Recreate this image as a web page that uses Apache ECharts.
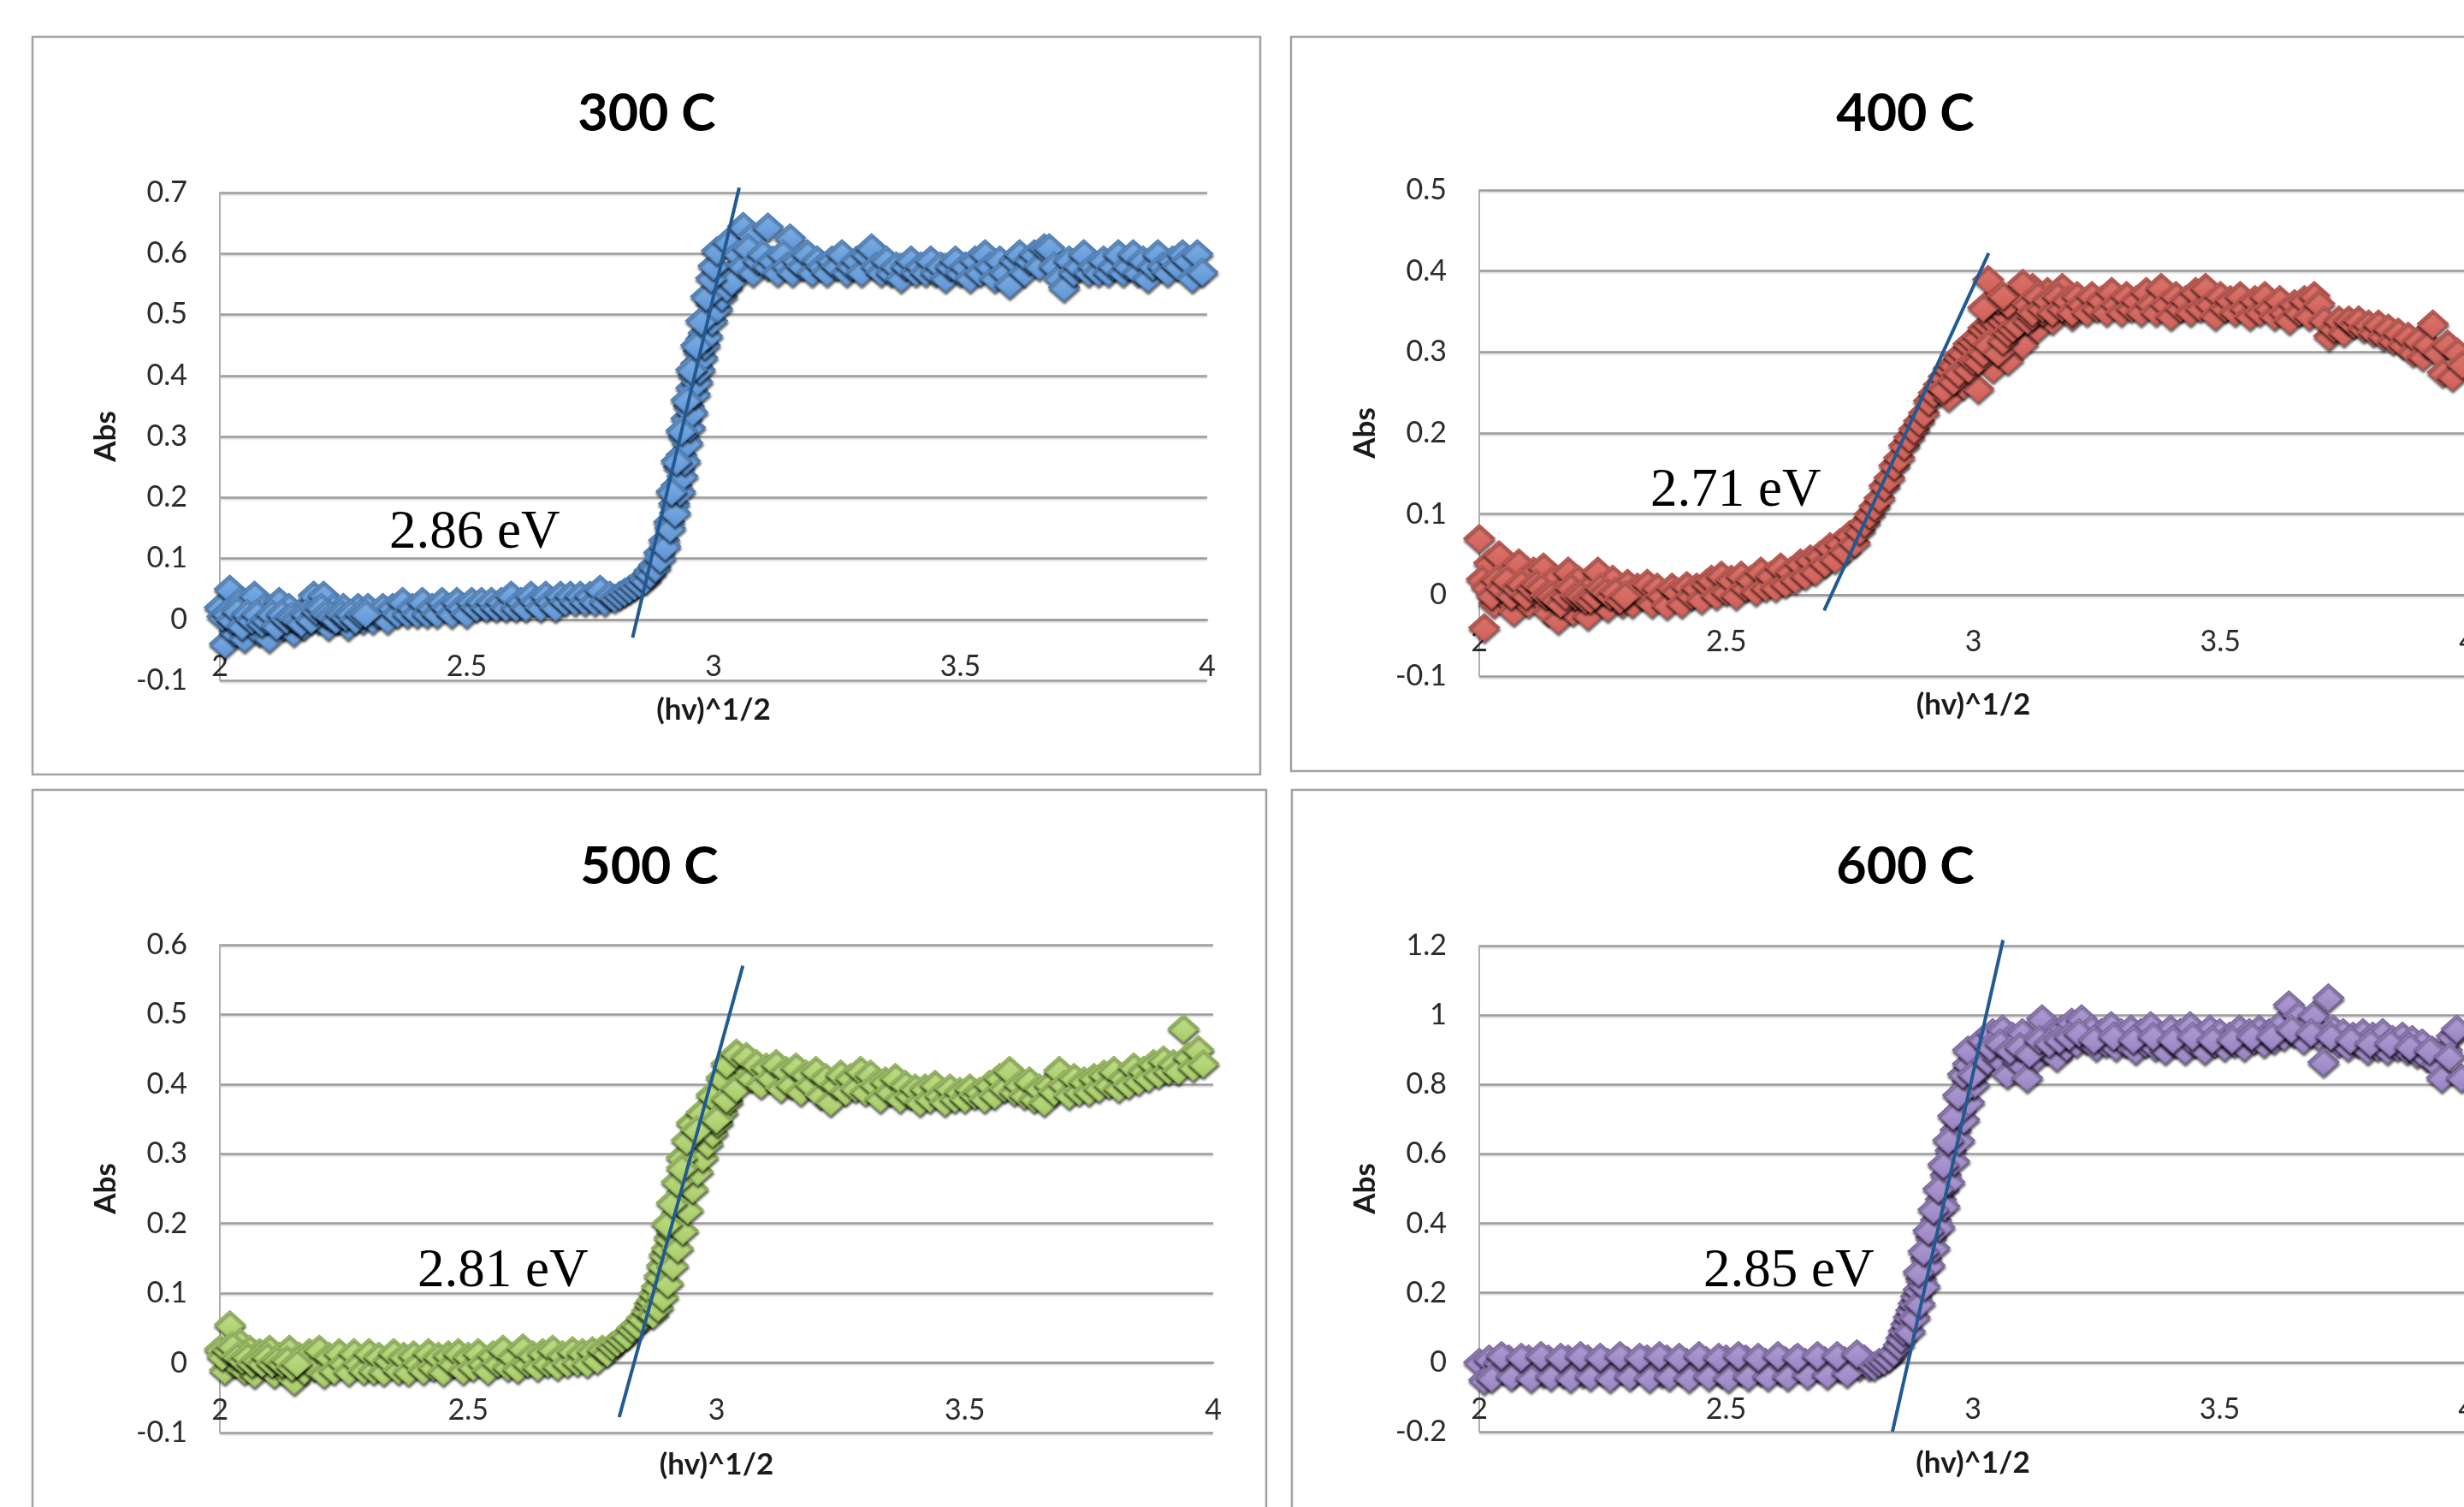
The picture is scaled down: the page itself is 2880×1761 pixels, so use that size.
<!DOCTYPE html>
<html>
<head>
<meta charset="utf-8">
<script src="https://cdn.jsdelivr.net/npm/echarts@6/dist/echarts.min.js"></script>
<style>
html,body{margin:0;padding:0;background:#fff;}
#chart{width:2880px;height:1761px;}
</style>
</head>
<body>
<div id="chart"></div>
<script>
// ---------------- DATA ----------------
const titles = ['300 C', '400 C', '500 C', '600 C'];
const gapLabels = ['2.86 eV', '2.71 eV', '2.81 eV', '2.85 eV'];
const xTitle = '(hv)^1/2';
const yTitle = 'Abs';
const xRange = [2, 4, 0.5];
const yRanges = [[-0.1, 0.7, 0.1], [-0.1, 0.5, 0.1], [-0.1, 0.6, 0.1], [-0.2, 1.2, 0.2]];

const pts300 = [
[2.00,0.02],[2.01,-0.04],[2.02,0.05],[2.03,-0.02],[2.04,0.03],[2.05,-0.03],[2.06,0.01],[2.07,0.04],[2.08,-0.02],[2.09,0.02],
[2.10,-0.03],[2.11,0.00],[2.12,0.03],[2.13,-0.01],[2.14,0.02],[2.15,-0.02],[2.16,0.01],[2.17,-0.01],[2.18,0.02],[2.19,0.04],
[2.20,0.00],[2.21,0.04],[2.22,-0.01],[2.23,0.02],[2.24,0.00],[2.25,0.02],[2.26,-0.01],[2.27,0.01],[2.28,0.02],[2.29,0.00],
[2.30,0.02],[2.31,0.00],[2.32,0.01],[2.33,0.02],[2.34,0.00],[2.35,0.02],[2.36,0.01],[2.37,0.03],[2.38,0.01],[2.39,0.02],
[2.40,0.01],[2.41,0.03],[2.42,0.01],[2.43,0.02],[2.44,0.01],[2.45,0.03],[2.46,0.02],[2.47,0.01],[2.48,0.03],[2.49,0.02],
[2.50,0.01],[2.51,0.03],[2.52,0.02],[2.53,0.03],[2.54,0.02],[2.55,0.03],[2.56,0.02],[2.57,0.03],[2.58,0.02],[2.59,0.04],
[2.60,0.02],[2.61,0.03],[2.62,0.02],[2.63,0.04],[2.64,0.03],[2.65,0.02],[2.66,0.04],[2.67,0.03],[2.68,0.02],[2.69,0.04],
[2.70,0.03],[2.71,0.04],[2.72,0.03],[2.73,0.04],[2.74,0.03],[2.75,0.04],[2.76,0.03],[2.77,0.05],[2.78,0.03],[2.79,0.04],
[2.005,0.005],[2.015,0.01],[2.025,0.00],[2.035,0.015],[2.045,-0.01],[2.055,0.01],[2.065,0.00],[2.075,0.01],[2.085,-0.005],[2.095,0.00],
[2.105,0.01],[2.115,-0.01],[2.125,0.01],[2.135,0.00],[2.145,0.005],[2.155,0.00],[2.165,-0.005],[2.175,0.01],[2.185,0.00],[2.195,0.015],
[2.205,0.02],[2.215,0.01],[2.225,0.005],[2.235,0.00],[2.245,0.01],[2.255,0.005],[2.265,0.01],[2.275,0.00],[2.285,0.01],[2.295,0.01],
[2.80,0.035],[2.81,0.04],[2.82,0.045],[2.83,0.05],[2.84,0.055],[2.85,0.06],[2.86,0.07],[2.87,0.08],[2.88,0.09],[2.89,0.11],
[2.90,0.13],[2.91,0.16],[2.92,0.19],[2.925,0.22],[2.93,0.25],[2.935,0.27],[2.94,0.30],[2.945,0.33],[2.95,0.35],[2.955,0.38],
[2.96,0.40],[2.965,0.42],[2.97,0.44],[2.975,0.46],[2.98,0.47],[2.985,0.49],[2.99,0.50],[2.995,0.52],[3.00,0.53],[3.005,0.54],
[3.01,0.55],[3.02,0.56],[3.03,0.565],[3.04,0.57],
[2.862,0.065],[2.872,0.075],[2.882,0.085],[2.892,0.10],[2.902,0.12],[2.912,0.15],[2.922,0.175],[2.932,0.21],[2.937,0.235],[2.942,0.26],
[2.947,0.29],[2.952,0.315],[2.957,0.34],[2.962,0.37],[2.967,0.39],[2.972,0.41],[2.977,0.43],[2.982,0.45],[2.987,0.465],[2.997,0.49],
[3.007,0.51],[3.017,0.53],[3.027,0.545],[3.037,0.555],
[2.915,0.21],[2.925,0.26],[2.935,0.31],[2.945,0.36],[2.955,0.41],[2.965,0.45],[2.975,0.49],[2.985,0.53],[2.995,0.56],[3.00,0.58],
[3.007,0.605],[3.03,0.62],[3.06,0.645],[3.08,0.63],[3.11,0.644],[3.155,0.626],
[3.05,0.60],[3.06,0.58],[3.07,0.61],[3.08,0.57],[3.09,0.59],[3.10,0.60],[3.11,0.58],[3.12,0.59],[3.13,0.57],[3.14,0.60],
[3.15,0.58],[3.16,0.57],[3.17,0.59],[3.18,0.58],[3.19,0.60],[3.20,0.57],[3.21,0.59],[3.22,0.58],[3.23,0.57],[3.24,0.59],
[3.25,0.58],[3.26,0.60],[3.27,0.57],[3.28,0.58],[3.29,0.59],[3.30,0.57],[3.31,0.60],[3.32,0.61],[3.33,0.58],[3.34,0.57],
[3.35,0.59],[3.36,0.57],[3.37,0.58],[3.38,0.56],[3.39,0.58],[3.40,0.59],[3.41,0.57],[3.42,0.58],[3.43,0.57],[3.44,0.59],
[3.45,0.57],[3.46,0.58],[3.47,0.56],[3.48,0.58],[3.49,0.59],[3.50,0.57],[3.51,0.58],[3.52,0.56],[3.53,0.59],[3.54,0.57],
[3.55,0.60],[3.56,0.58],[3.57,0.56],[3.58,0.59],[3.59,0.57],[3.60,0.55],[3.61,0.59],[3.62,0.60],[3.63,0.57],[3.64,0.59],
[3.65,0.60],[3.66,0.58],[3.67,0.61],[3.68,0.61],[3.69,0.58],[3.70,0.56],[3.71,0.545],[3.72,0.59],[3.73,0.57],[3.74,0.58],
[3.75,0.60],[3.76,0.57],[3.77,0.58],[3.78,0.57],[3.79,0.59],[3.80,0.57],[3.81,0.58],[3.82,0.60],[3.83,0.57],[3.84,0.58],
[3.85,0.60],[3.86,0.57],[3.87,0.59],[3.88,0.56],[3.89,0.58],[3.90,0.60],[3.91,0.58],[3.92,0.57],[3.93,0.59],[3.94,0.58],
[3.95,0.60],[3.96,0.59],[3.97,0.56],[3.98,0.60],[3.99,0.57]
];

const pts400 = [
[2.00,0.07],[2.01,-0.04],[2.02,0.04],[2.03,-0.01],[2.04,0.05],[2.05,0.00],[2.06,0.03],[2.07,-0.02],[2.08,0.04],[2.09,0.01],
[2.10,-0.01],[2.11,0.03],[2.12,0.00],[2.13,0.035],[2.14,-0.02],[2.15,0.02],[2.16,-0.03],[2.17,0.01],[2.18,0.03],[2.19,-0.02],
[2.20,0.02],[2.21,-0.01],[2.22,-0.025],[2.23,0.015],[2.24,0.03],[2.25,0.00],[2.26,-0.015],[2.27,0.02],[2.28,0.00],[2.29,-0.01],
[2.30,0.015],[2.31,-0.01],[2.32,0.01],[2.33,0.00],[2.34,0.015],[2.35,-0.01],[2.36,0.01],[2.37,0.00],[2.38,-0.012],[2.39,0.01],
[2.40,0.005],[2.41,-0.01],[2.42,0.012],[2.43,0.00],[2.44,0.01],[2.45,-0.005],[2.46,0.015],[2.47,0.02],[2.48,0.00],[2.49,0.025],
[2.50,0.005],[2.51,0.02],[2.52,0.00],[2.53,0.025],[2.54,0.01],[2.55,0.02],[2.56,0.005],[2.57,0.03],[2.58,0.01],[2.59,0.025],
[2.60,0.01],[2.61,0.035],[2.62,0.015],[2.63,0.03],[2.64,0.02],[2.65,0.04],[2.66,0.025],[2.67,0.045],[2.68,0.03],[2.69,0.05],
[2.70,0.04],[2.71,0.06],[2.72,0.045],[2.73,0.065],[2.74,0.055],[2.75,0.075],[2.76,0.065],[2.77,0.08],
[2.005,0.02],[2.015,0.01],[2.025,0.00],[2.035,0.02],[2.045,0.01],[2.055,0.02],[2.065,0.00],[2.075,0.01],[2.085,0.015],[2.095,0.00],
[2.105,0.01],[2.115,0.015],[2.125,0.01],[2.135,0.00],[2.145,0.00],[2.155,-0.005],[2.165,-0.01],[2.175,0.00],[2.185,0.01],[2.195,0.00],
[2.205,0.00],[2.215,-0.005],[2.225,-0.005],[2.235,0.00],[2.245,0.01],[2.255,0.005],[2.265,0.00],[2.275,0.005],[2.285,-0.005],[2.295,0.00],
[2.78,0.09],[2.79,0.10],[2.80,0.11],[2.81,0.12],[2.82,0.135],[2.83,0.145],[2.84,0.16],[2.85,0.17],[2.86,0.185],[2.87,0.195],
[2.88,0.205],[2.89,0.215],[2.90,0.225],[2.91,0.24],[2.92,0.25],[2.93,0.26],[2.94,0.27],[2.95,0.28],[2.96,0.285],[2.97,0.295],
[2.98,0.30],[2.99,0.31],[3.00,0.315],[3.01,0.32],[3.02,0.33],[3.03,0.335],[3.04,0.34],[3.05,0.345],[3.06,0.35],[3.08,0.355],
[3.10,0.36],
[2.95,0.245],[2.98,0.26],[3.01,0.255],[3.04,0.28],[3.07,0.29],[3.10,0.31],[3.13,0.33],[3.16,0.34],[3.20,0.345],
[2.94,0.255],[2.96,0.265],[2.97,0.275],[2.99,0.28],[3.00,0.29],[3.01,0.29],[3.02,0.30],[3.03,0.31],[3.05,0.30],[3.06,0.315],
[3.07,0.325],[3.08,0.33],[3.09,0.335],[3.11,0.34],[3.12,0.345],[3.14,0.35],[3.03,0.36],[3.05,0.365],[3.07,0.36],[3.09,0.375],
[3.12,0.38],[3.15,0.375],[3.18,0.38],
[3.02,0.355],[3.03,0.39],[3.06,0.37],[3.10,0.385],[3.13,0.37],
[3.11,0.36],[3.12,0.35],[3.13,0.37],[3.14,0.355],[3.15,0.365],[3.16,0.35],[3.17,0.37],[3.18,0.355],[3.19,0.365],[3.20,0.35],
[3.21,0.37],[3.22,0.36],[3.23,0.35],[3.24,0.37],[3.25,0.355],[3.26,0.365],[3.27,0.35],[3.28,0.375],[3.29,0.36],[3.30,0.35],
[3.31,0.37],[3.32,0.355],[3.33,0.365],[3.34,0.35],[3.35,0.375],[3.36,0.36],[3.37,0.35],[3.38,0.38],[3.39,0.36],[3.40,0.345],
[3.41,0.37],[3.42,0.355],[3.43,0.365],[3.44,0.35],[3.45,0.375],[3.46,0.355],[3.47,0.38],[3.48,0.36],[3.49,0.345],[3.50,0.37],
[3.51,0.355],[3.52,0.365],[3.53,0.35],[3.54,0.37],[3.55,0.355],[3.56,0.345],[3.57,0.365],[3.58,0.35],[3.59,0.37],[3.60,0.355],
[3.61,0.345],[3.62,0.365],[3.63,0.35],[3.64,0.34],[3.65,0.36],[3.66,0.35],[3.67,0.365],[3.68,0.345],[3.69,0.37],[3.70,0.36],
[3.71,0.34],[3.72,0.32],[3.73,0.33],[3.74,0.34],[3.75,0.325],[3.76,0.34],[3.77,0.335],[3.78,0.34],[3.79,0.33],[3.80,0.335],
[3.81,0.325],[3.82,0.335],[3.83,0.32],[3.84,0.33],[3.85,0.315],[3.86,0.325],[3.87,0.31],[3.88,0.32],[3.89,0.30],[3.90,0.315],
[3.91,0.295],[3.92,0.31],[3.93,0.335],[3.94,0.30],[3.95,0.275],[3.96,0.31],[3.97,0.27],[3.98,0.30],[3.99,0.285]
];

const pts500 = [
[2.00,0.02],[2.01,-0.01],[2.02,0.055],[2.03,0.00],[2.04,0.03],[2.05,-0.01],[2.06,0.02],[2.07,-0.015],[2.08,0.015],[2.09,0.00],
[2.10,0.02],[2.11,-0.015],[2.12,0.01],[2.13,-0.01],[2.14,0.02],[2.15,-0.025],[2.16,0.01],[2.17,-0.01],[2.18,0.015],[2.19,-0.005],
[2.20,0.02],[2.21,-0.015],[2.22,0.01],[2.23,-0.01],[2.24,0.015],[2.25,0.00],[2.26,-0.012],[2.27,0.015],[2.28,0.00],[2.29,-0.01],
[2.30,0.015],[2.31,-0.01],[2.32,0.01],[2.33,-0.012],[2.34,0.005],[2.35,0.015],[2.36,-0.01],[2.37,0.01],[2.38,-0.012],[2.39,0.012],
[2.40,0.00],[2.41,-0.01],[2.42,0.015],[2.43,-0.005],[2.44,0.01],[2.45,-0.012],[2.46,0.012],[2.47,0.00],[2.48,0.015],[2.49,-0.01],
[2.50,0.01],[2.51,-0.005],[2.52,0.015],[2.53,0.00],[2.54,-0.01],[2.55,0.012],[2.56,0.00],[2.57,0.02],[2.58,-0.005],[2.59,0.01],
[2.60,-0.008],[2.61,0.022],[2.62,0.00],[2.63,0.012],[2.64,-0.005],[2.65,0.015],[2.66,0.00],[2.67,0.02],[2.68,-0.004],[2.69,0.012],
[2.70,0.00],[2.71,0.018],[2.72,0.002],[2.73,0.015],[2.74,0.00],[2.75,0.018],[2.76,0.005],[2.77,0.02],
[2.005,0.01],[2.015,0.02],[2.025,0.025],[2.035,0.01],[2.045,0.005],[2.055,0.01],[2.065,0.00],[2.075,0.005],[2.085,0.00],[2.095,0.01],
[2.105,0.00],[2.115,0.005],[2.125,0.00],[2.135,0.005],[2.145,-0.005],[2.155,0.00],
[2.78,0.015],[2.79,0.025],[2.80,0.03],[2.81,0.035],[2.82,0.04],[2.83,0.05],[2.84,0.055],[2.85,0.065],[2.86,0.075],[2.865,0.085],
[2.87,0.09],[2.875,0.10],[2.88,0.11],[2.885,0.125],[2.89,0.14],[2.895,0.155],[2.90,0.165],[2.905,0.18],[2.91,0.19],[2.915,0.20],
[2.92,0.215],[2.925,0.23],[2.93,0.245],[2.935,0.26],[2.94,0.275],[2.945,0.29],[2.95,0.30],[2.955,0.31],[2.96,0.315],[2.97,0.325],
[2.98,0.34],[2.99,0.355],[3.00,0.37],[3.01,0.385],[3.02,0.40],[3.03,0.415],[3.04,0.42],[3.05,0.43],
[2.872,0.07],[2.882,0.08],[2.892,0.095],[2.902,0.115],[2.912,0.14],[2.922,0.165],[2.932,0.19],[2.942,0.22],[2.952,0.25],[2.962,0.275],
[2.972,0.295],[2.982,0.315],[2.992,0.33],[3.002,0.345],[3.012,0.36],[3.022,0.375],
[2.90,0.20],[2.91,0.23],[2.92,0.26],[2.93,0.295],[2.94,0.32],[2.95,0.345],[2.97,0.36],[2.99,0.385],[3.01,0.41],
[2.93,0.28],[2.96,0.335],[3.00,0.35],[3.02,0.38],[3.04,0.395],[3.02,0.43],[3.04,0.445],
[3.06,0.44],[3.07,0.41],[3.08,0.43],[3.09,0.40],[3.10,0.425],[3.11,0.41],[3.12,0.43],[3.13,0.395],[3.14,0.42],[3.15,0.40],
[3.16,0.425],[3.17,0.39],[3.18,0.415],[3.19,0.40],[3.20,0.42],[3.21,0.385],[3.22,0.41],[3.23,0.375],[3.24,0.40],[3.25,0.415],
[3.26,0.39],[3.27,0.41],[3.28,0.395],[3.29,0.42],[3.30,0.39],[3.31,0.415],[3.32,0.40],[3.33,0.38],[3.34,0.405],[3.35,0.39],
[3.36,0.41],[3.37,0.38],[3.38,0.40],[3.39,0.385],[3.40,0.395],[3.41,0.375],[3.42,0.395],[3.43,0.38],[3.44,0.40],[3.45,0.385],
[3.46,0.375],[3.47,0.395],[3.48,0.38],[3.49,0.39],[3.50,0.38],[3.51,0.395],[3.52,0.385],[3.53,0.39],[3.54,0.38],[3.55,0.40],
[3.56,0.385],[3.57,0.41],[3.58,0.395],[3.59,0.42],[3.60,0.39],[3.61,0.40],[3.62,0.385],[3.63,0.405],[3.64,0.38],[3.65,0.395],
[3.66,0.375],[3.67,0.40],[3.68,0.39],[3.69,0.42],[3.70,0.40],[3.71,0.385],[3.72,0.41],[3.73,0.39],[3.74,0.405],[3.75,0.39],
[3.76,0.41],[3.77,0.395],[3.78,0.415],[3.79,0.40],[3.80,0.42],[3.81,0.395],[3.82,0.41],[3.83,0.40],[3.84,0.425],[3.85,0.405],
[3.86,0.42],[3.87,0.41],[3.88,0.43],[3.89,0.415],[3.90,0.435],[3.91,0.42],[3.92,0.43],[3.93,0.42],[3.94,0.48],[3.95,0.44],
[3.96,0.425],[3.97,0.45],[3.98,0.43]
];

const pts600 = [
[2.00,0.00],[2.01,-0.05],[2.02,0.01],[2.03,-0.03],[2.04,0.00],[2.05,-0.02],[2.06,0.01],[2.07,-0.03],[2.08,0.005],[2.09,-0.02],
[2.10,0.01],[2.11,-0.025],[2.12,0.00],[2.13,-0.03],[2.14,0.01],[2.15,-0.015],[2.16,0.005],[2.17,-0.03],[2.18,0.01],[2.19,-0.02],
[2.20,0.00],[2.21,-0.03],[2.22,0.01],[2.23,-0.015],[2.24,0.005],[2.25,-0.025],[2.26,0.00],[2.27,-0.03],[2.28,0.01],[2.29,-0.02],
[2.30,0.005],[2.31,-0.03],[2.32,0.00],[2.33,-0.015],[2.34,0.01],[2.35,-0.025],[2.36,0.00],[2.37,-0.03],[2.38,0.01],[2.39,-0.02],
[2.40,0.005],[2.41,-0.025],[2.42,0.00],[2.43,-0.03],[2.44,0.01],[2.45,-0.015],[2.46,0.005],[2.47,-0.025],[2.48,0.00],[2.49,-0.03],
[2.50,0.01],[2.51,-0.02],[2.52,0.00],[2.53,-0.025],[2.54,0.01],[2.55,-0.015],[2.56,0.005],[2.57,-0.025],[2.58,0.00],[2.59,-0.02],
[2.60,0.01],[2.61,-0.025],[2.62,0.005],[2.63,-0.02],[2.64,0.01],[2.65,-0.015],[2.66,0.00],[2.67,-0.02],[2.68,0.01],[2.69,-0.015],
[2.70,0.005],[2.71,-0.02],[2.72,0.01],[2.73,-0.015],[2.74,0.005],[2.75,-0.015],[2.76,0.01],[2.77,-0.01],[2.78,0.01],[2.79,-0.01],
[2.025,-0.045],[2.065,-0.04],[2.105,-0.045],[2.145,-0.04],[2.185,-0.045],[2.225,-0.04],[2.265,-0.045],[2.305,-0.04],[2.345,-0.045],[2.385,-0.04],
[2.425,-0.045],[2.465,-0.04],[2.505,-0.045],[2.545,-0.04],[2.585,-0.04],[2.625,-0.04],[2.665,-0.035],[2.705,-0.035],[2.745,-0.03],
[2.045,0.02],[2.085,0.015],[2.125,0.02],[2.165,0.015],[2.205,0.02],[2.245,0.015],[2.285,0.02],[2.325,0.015],[2.365,0.02],[2.405,0.015],
[2.445,0.02],[2.485,0.015],[2.525,0.02],[2.565,0.015],[2.605,0.02],[2.645,0.015],[2.685,0.02],[2.725,0.02],[2.765,0.025],
[2.80,-0.01],[2.81,0.00],[2.82,0.005],[2.83,0.015],[2.84,0.03],[2.85,0.05],[2.855,0.07],[2.86,0.09],[2.865,0.11],[2.87,0.13],
[2.875,0.15],[2.88,0.17],[2.885,0.19],[2.89,0.21],[2.895,0.24],[2.90,0.27],[2.905,0.30],[2.91,0.33],[2.915,0.36],[2.92,0.38],
[2.925,0.41],[2.93,0.44],[2.935,0.47],[2.94,0.50],[2.945,0.54],[2.95,0.58],[2.955,0.61],[2.96,0.64],[2.965,0.67],[2.97,0.70],
[2.975,0.73],[2.98,0.76],[2.985,0.79],[2.99,0.81],[2.995,0.84],[3.00,0.86],[3.005,0.88],[3.01,0.89],[3.02,0.90],
[2.872,0.09],[2.882,0.13],[2.892,0.17],[2.902,0.22],[2.912,0.28],[2.922,0.33],[2.932,0.39],[2.942,0.45],[2.952,0.52],[2.962,0.58],
[2.972,0.64],[2.982,0.70],[2.992,0.75],[3.002,0.80],[3.012,0.84],
[2.89,0.26],[2.90,0.32],[2.91,0.38],[2.92,0.44],[2.93,0.50],[2.94,0.57],[2.95,0.64],[2.96,0.71],[2.97,0.77],[2.98,0.83],[2.99,0.86],
[2.99,0.90],[3.00,0.83],
[3.02,0.93],[3.03,0.87],[3.04,0.95],[3.05,0.88],[3.06,0.96],[3.07,0.83],[3.08,0.94],[3.09,0.87],[3.10,0.95],[3.11,0.82],
[3.12,0.92],[3.13,0.88],[3.14,0.99],[3.15,0.90],[3.16,0.95],[3.17,0.88],[3.18,0.96],[3.19,0.91],[3.20,0.98],[3.21,0.92],
[3.22,0.99],[3.23,0.93],[3.24,0.96],[3.25,0.91],[3.26,0.95],[3.27,0.92],[3.28,0.97],[3.29,0.91],[3.30,0.95],[3.31,0.92],
[3.32,0.96],[3.33,0.90],[3.34,0.95],[3.35,0.92],[3.36,0.97],[3.37,0.91],[3.38,0.94],[3.39,0.90],[3.40,0.96],[3.41,0.92],
[3.42,0.95],[3.43,0.90],[3.44,0.97],[3.45,0.92],[3.46,0.94],[3.47,0.90],[3.48,0.96],[3.49,0.92],[3.50,0.95],[3.51,0.91],
[3.52,0.94],[3.53,0.92],[3.54,0.96],[3.55,0.91],[3.56,0.95],[3.57,0.93],[3.58,0.96],[3.59,0.92],[3.60,0.95],[3.61,0.93],
[3.62,0.97],[3.63,0.94],[3.64,1.03],[3.65,0.95],[3.66,1.00],[3.67,0.93],[3.68,0.98],[3.69,1.00],[3.70,0.94],[3.71,0.865],
[3.72,1.05],[3.73,0.96],[3.74,0.92],[3.75,0.95],[3.76,0.91],[3.77,0.94],[3.78,0.92],[3.79,0.95],[3.80,0.90],[3.81,0.94],
[3.82,0.91],[3.83,0.95],[3.84,0.90],[3.85,0.93],[3.86,0.91],[3.87,0.94],[3.88,0.90],[3.89,0.93],[3.90,0.89],[3.91,0.92],
[3.92,0.88],[3.93,0.90],[3.94,0.86],[3.95,0.82],[3.96,0.90],[3.97,0.94],[3.98,0.96],[3.99,0.82],
[3.035,0.91],[3.055,0.92],[3.075,0.90],[3.095,0.91],[3.115,0.89],[3.135,0.93],[3.155,0.92],[3.175,0.93],[3.195,0.94],[3.215,0.95],
[3.245,0.93],[3.285,0.94],[3.325,0.93],[3.365,0.94],[3.405,0.93],[3.445,0.94],[3.485,0.93],[3.525,0.93],[3.565,0.94],[3.605,0.94],
[3.645,0.96],[3.685,0.95],[3.725,0.94],[3.765,0.93],[3.805,0.92],[3.845,0.92],[3.885,0.91],[3.925,0.90],[3.965,0.88]
];

// tangent (band-gap) lines, endpoints in data units
const fit300 = [[2.836,-0.030],[3.052,0.708]];
const fit400 = [[2.698,-0.019],[3.031,0.422]];
const fit500 = [[2.804,-0.078],[3.053,0.570]];
const fit600 = [[2.837,-0.200],[3.061,1.216]];

// ---------------- LAYOUT / STYLE ----------------
const seriesData = [pts300, pts400, pts500, pts600];
const fits = [fit300, fit400, fit500, fit600];
const grids = [
  {left:257, top:225, width:1154, height:570},
  {left:1729, top:222, width:1155, height:568},
  {left:257, top:1104, width:1161, height:570},
  {left:1729, top:1105, width:1154, height:568}
];
const xNameGap = [88, 111, 102, 100];
const frames = [
  {x:38, y:43, w:1435, h:862},
  {x:1509, y:43, w:1440, h:858},
  {x:38, y:923, w:1442, h:900},
  {x:1510, y:923, w:1440, h:900}
];
const titlePos = [[756,133],[2227,133],[759,1013],[2227,1013]];
const annPos = [[455,623],[1929,574],[488,1486],[1991,1486]];
const palettes = [
  {top:'#82b4ea', bottom:'#5d93d3', border:'#4a7ebb'},
  {top:'#de7970', bottom:'#cf5f57', border:'#be534d'},
  {top:'#c3e18e', bottom:'#a6ca64', border:'#8fb452'},
  {top:'#b4a2d8', bottom:'#9782c0', border:'#7f66a6'}
];

const font = 'Lato, "Open Sans", "DejaVu Sans", sans-serif';
const gridColor = '#9c9c9c';

const xAxes = [], yAxes = [], series = [], graphics = [];
for (let i = 0; i < 4; i++) {
  const g = grids[i], yr = yRanges[i];
  // place the horizontal axis on y = 0 (Excel default crossing)
  const zeroOffset = -(0 - yr[0]) / (yr[1] - yr[0]) * g.height;
  xAxes.push({
    type:'value', gridIndex:i, min:xRange[0], max:xRange[1], interval:xRange[2],
    position:'bottom', offset:zeroOffset,
    name:xTitle, nameLocation:'middle', nameGap:xNameGap[i],
    nameTextStyle:{fontFamily:font, fontWeight:'bold', fontSize:35, color:'#1a1a1a'},
    axisLine:{show:true, onZero:false, lineStyle:{color:gridColor, width:2.5}},
    axisTick:{show:false},
    axisLabel:{fontFamily:font, fontSize:34, color:'#2b2b2b', margin:38},
    splitLine:{show:false}
  });
  yAxes.push({
    type:'value', gridIndex:i, min:yr[0], max:yr[1], interval:yr[2],
    name:yTitle, nameLocation:'middle', nameGap:116, nameRotate:90,
    nameTextStyle:{fontFamily:font, fontWeight:'bold', fontSize:35, color:'#1a1a1a'},
    axisLine:{show:true, onZero:false, lineStyle:{color:'#b0b0b0', width:2}},
    axisTick:{show:false},
    axisLabel:{fontFamily:font, fontSize:34, color:'#2b2b2b', margin:38},
    splitLine:{show:true, lineStyle:{color:gridColor, width:2.5, shadowColor:'rgba(0,0,0,0.18)', shadowBlur:2, shadowOffsetY:1.5}}
  });
  const p = palettes[i];
  series.push({
    type:'scatter', xAxisIndex:i, yAxisIndex:i, data:seriesData[i],
    symbol:'diamond', symbolSize:[36, 32], clip:false,
    itemStyle:{
      color:new echarts.graphic.LinearGradient(0,0,0,1,[{offset:0,color:p.top},{offset:1,color:p.bottom}]),
      borderColor:p.border, borderWidth:1.5, opacity:1,
      shadowColor:'rgba(0,0,0,0.6)', shadowBlur:3, shadowOffsetY:3, shadowOffsetX:0.5
    },
    z:2
  });
  series.push({
    type:'line', xAxisIndex:i, yAxisIndex:i, data:fits[i],
    showSymbol:false, symbol:'none', clip:false,
    lineStyle:{color:'#215a92', width:4},
    z:5
  });
  const f = frames[i];
  graphics.push({type:'rect', shape:{x:f.x, y:f.y, width:f.w, height:f.h}, style:{fill:'none', stroke:'#a2a2a2', lineWidth:2.5}, z:-10, silent:true});
  graphics.push({type:'text', x:titlePos[i][0], y:titlePos[i][1], style:{text:titles[i], font:'bold 61px ' + font, fill:'#000', textAlign:'center', textVerticalAlign:'middle'}, z:10});
  graphics.push({type:'text', x:annPos[i][0], y:annPos[i][1], style:{text:gapLabels[i], font:'63px "Liberation Serif", "Times New Roman", serif', fill:'#000', textAlign:'left', textVerticalAlign:'middle'}, z:10});
}

const chart = echarts.init(document.getElementById('chart'), null, {renderer:'canvas'});
chart.setOption({
  animation:false,
  backgroundColor:'#ffffff',
  grid: grids.map(g => Object.assign({containLabel:false, outerBoundsMode:'none'}, g)),
  xAxis: xAxes,
  yAxis: yAxes,
  series: series,
  graphic: graphics
});
</script>
</body>
</html>
